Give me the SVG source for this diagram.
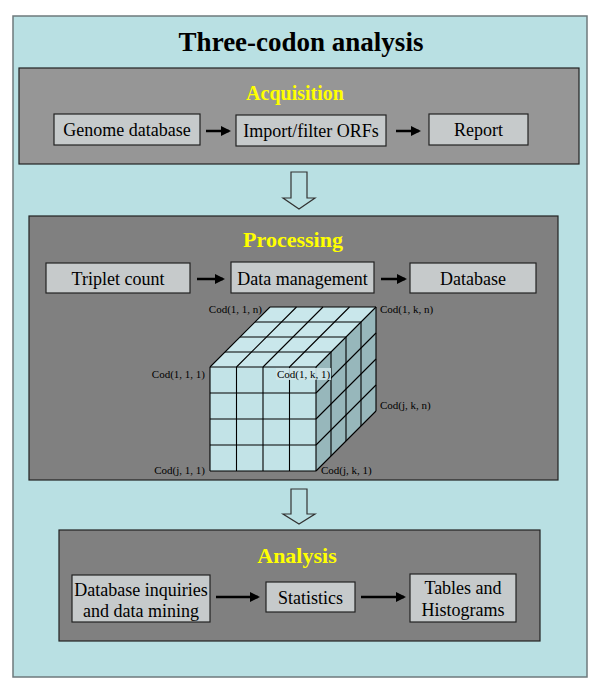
<svg xmlns="http://www.w3.org/2000/svg" width="600" height="691" viewBox="0 0 600 691">
<defs>
<style>
.frame{fill:#b9e0e3;stroke:#6e7a7c;stroke-width:1.5}
.panel{stroke:#222;stroke-width:1.2}
.box{fill:#c6cacb;stroke:#222;stroke-width:1.2}
.bt{font-family:"Liberation Serif","Times New Roman",serif;font-size:18px;fill:#000;text-anchor:middle}
.ph{font-family:"Liberation Serif","Times New Roman",serif;font-weight:bold;fill:#ffff00;text-anchor:middle}
.cod{font-family:"Liberation Serif","Times New Roman",serif;font-size:11px;fill:#000}
.arr{stroke:#000;stroke-width:2.5;fill:none;marker-end:url(#ah)}
.hollow{fill:#b9e0e3;stroke:#333;stroke-width:1.2}
.grid{stroke:#000;stroke-width:1.1;fill:none}
</style>
<marker id="ah" markerWidth="4" markerHeight="4" refX="3.2" refY="2" orient="auto" markerUnits="strokeWidth">
<path d="M0,0 L4,2 L0,4 Z" fill="#000"/>
</marker>
</defs>

<rect class="frame" x="13" y="16" width="574" height="661"/>
<text x="301" y="51" font-family="Liberation Serif,Times New Roman,serif" font-size="27" font-weight="bold" text-anchor="middle">Three-codon analysis</text>

<g id="acquisition">
<rect class="panel" x="19" y="68" width="560" height="96" fill="#969696"/>
<text class="ph" x="295" y="100" font-size="20">Acquisition</text>
</g>
<g id="genome-database">
<rect class="box" x="54" y="114" width="146" height="31"/>
<text class="bt" x="127" y="136">Genome database</text>
</g>
<g id="import-filter">
<rect class="box" x="236" y="115" width="150" height="31"/>
<text class="bt" x="311" y="137">Import/filter ORFs</text>
</g>
<g id="report">
<rect class="box" x="429" y="114" width="99" height="31"/>
<text class="bt" x="478.5" y="136">Report</text>
</g>

<g id="processing">
<rect class="panel" x="29" y="216" width="529" height="264" fill="#808080"/>
<text class="ph" x="293" y="247" font-size="22">Processing</text>
</g>
<g id="triplet-count">
<rect class="box" x="46" y="263" width="144" height="30"/>
<text class="bt" x="118" y="284.5">Triplet count</text>
</g>
<g id="data-management">
<rect class="box" x="231" y="262" width="143" height="31"/>
<text class="bt" x="302.5" y="284.5">Data management</text>
</g>
<g id="database">
<rect class="box" x="410" y="263" width="126" height="30"/>
<text class="bt" x="473" y="284.5">Database</text>
</g>

<g id="cube">
<polygon points="210,367 316,367 376,307 270,307" fill="#c9e7eb"/>
<polygon points="316,367 376,307 376,411 316,471" fill="#97b7bb"/>
<rect x="210" y="367" width="106" height="104" fill="#c2e3e7"/>
<g class="grid">
<path d="M210,367V471M236.5,367V471M263,367V471M289.5,367V471M316,367V471"/>
<path d="M210,367H316M210,393H316M210,419H316M210,445H316M210,471H316"/>
<path d="M225,352H331M240,337H346M255,322H361M270,307H376"/>
<path d="M210,367L270,307M236.5,367L296.5,307M263,367L323,307M289.5,367L349.5,307M316,367L376,307"/>
<path d="M316,393L376,333M316,419L376,359M316,445L376,385M316,471L376,411"/>
<path d="M331,352V456M346,337V441M361,322V426M376,307V411"/>
</g>
<text class="cod" x="262" y="313" text-anchor="end">Cod(1, 1, n)</text>
<text class="cod" x="380" y="313">Cod(1, k, n)</text>
<text class="cod" x="205" y="378" text-anchor="end">Cod(1, 1, 1)</text>
<rect x="276" y="368" width="55" height="12" fill="#cfe6e9" opacity="0.9"/>
<text class="cod" x="277" y="378">Cod(1, k, 1)</text>
<text class="cod" x="380" y="409">Cod(j, k, n)</text>
<text class="cod" x="205" y="474" text-anchor="end">Cod(j, 1, 1)</text>
<text class="cod" x="321" y="474">Cod(j, k, 1)</text>
</g>

<g id="analysis">
<rect class="panel" x="59" y="530" width="481" height="111" fill="#808080"/>
<text class="ph" x="297" y="563" font-size="22">Analysis</text>
</g>
<g id="database-inquiries">
<rect class="box" x="72" y="575" width="138" height="47"/>
<text class="bt" x="141" y="596">Database inquiries</text>
<text class="bt" x="141" y="617">and data mining</text>
</g>
<g id="statistics">
<rect class="box" x="266" y="582" width="89" height="30"/>
<text class="bt" x="310.5" y="603.5">Statistics</text>
</g>
<g id="tables-histograms">
<rect class="box" x="410" y="574" width="106" height="48"/>
<text class="bt" x="463" y="594">Tables and</text>
<text class="bt" x="463" y="616">Histograms</text>
</g>

<g id="connectors">
<line class="arr" x1="206" y1="131" x2="229" y2="131"/>
<line class="arr" x1="396" y1="131" x2="419" y2="131"/>
<line class="arr" x1="197" y1="279" x2="223" y2="279"/>
<line class="arr" x1="381" y1="279" x2="405" y2="279"/>
<line class="arr" x1="216" y1="597" x2="258" y2="597"/>
<line class="arr" x1="361" y1="597" x2="404" y2="597"/>
<polygon class="hollow" points="291,172 307,172 307,198 315,198 299,209 283,198 291,198"/>
<polygon class="hollow" points="291,489 307,489 307,514 315,514 299,524 283,514 291,514"/>
</g>
</svg>
